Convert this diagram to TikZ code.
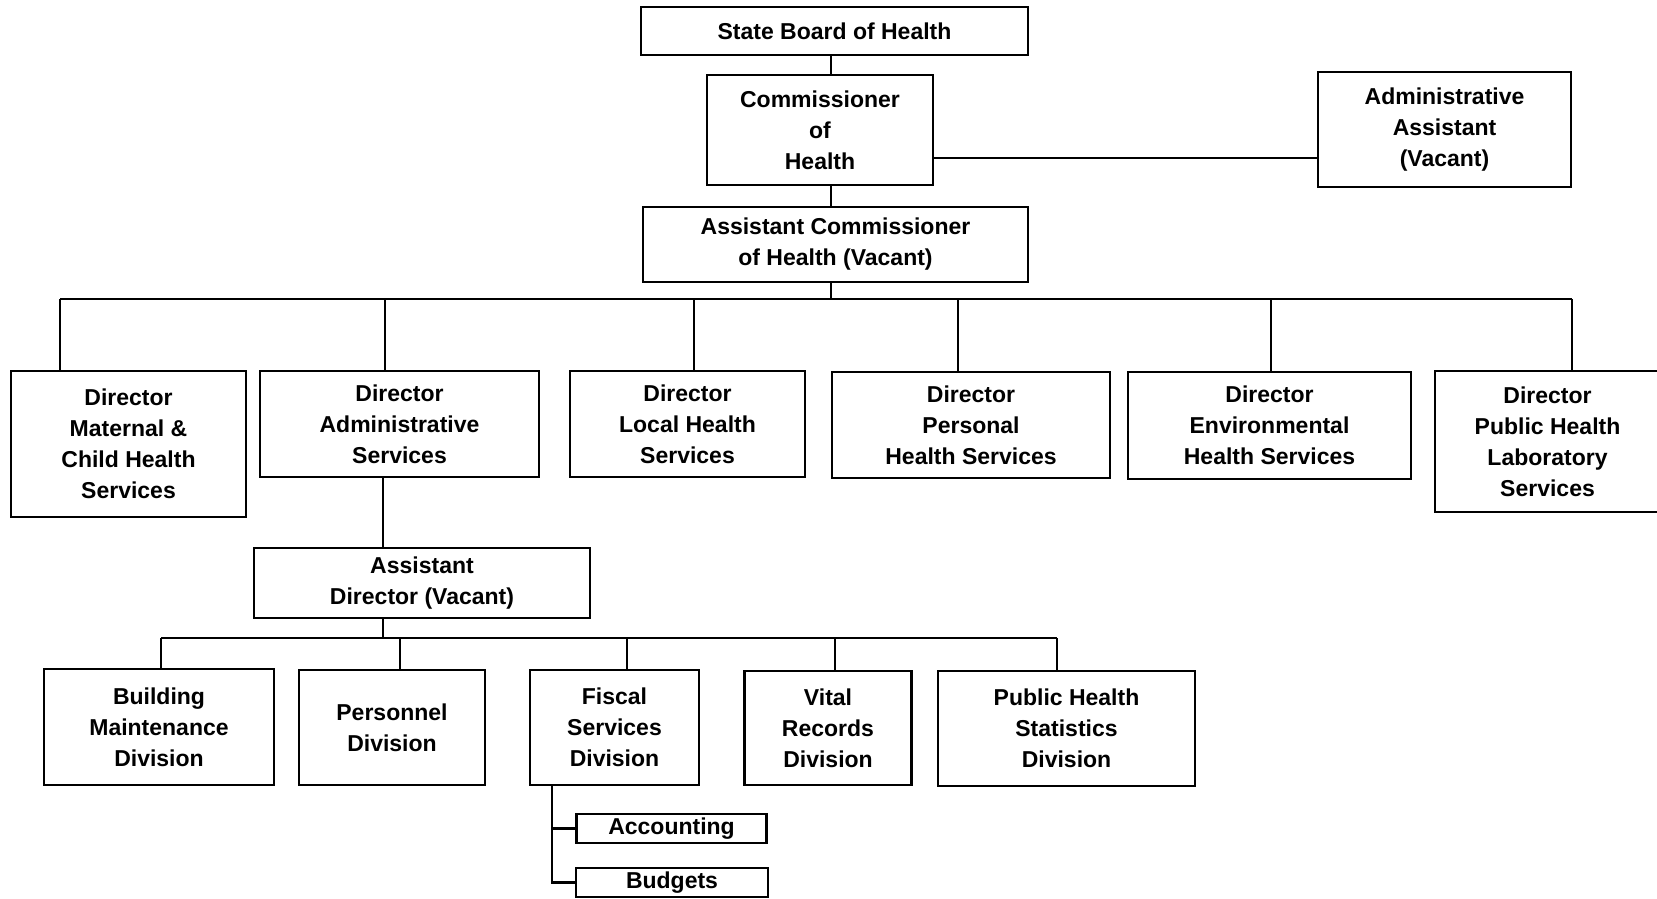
\documentclass[tikz,border=0pt]{standalone}
\usepackage{fontspec}
\setmainfont{Liberation Sans}
\begin{document}
\begin{tikzpicture}[x=0.5pt,y=-0.5pt]
\tikzset{
  box/.style={draw, line width=1.3pt, align=center, inner sep=0pt,
    font=\bfseries\fontsize{11.5}{15.5}\selectfont},
  wh/.style 2 args={minimum width=#1*0.5pt, minimum height=#2*0.5pt},
  link/.style={line width=1.2pt},
}
\path[use as bounding box, clip] (0,0) rectangle (1657,898);

% top of the chart
\node[box, wh={387}{48}]  (sbh)  at (834.5,31)    {State Board of Health};
\node[box, wh={226}{110}] (com)  at (820,130)     {Commissioner\\of\\Health};
\node[box, wh={253}{115}] (adm)  at (1444.5,129.5){Administrative\\Assistant\\(Vacant)};
\node[box, wh={385}{75}]  (acom) at (835.5,244.5) {Assistant Commissioner\\of Health (Vacant)};

% directors
\node[box, wh={235}{146}] (mch) at (128.5,444)   {Director\\Maternal \&\\Child Health\\Services};
\node[box, wh={279}{106}] (das) at (399.5,424)   {Director\\Administrative\\Services};
\node[box, wh={235}{106}] (dlh) at (687.5,424)   {Director\\Local Health\\Services};
\node[box, wh={278}{106}] (dph) at (971,425)     {Director\\Personal\\Health Services};
\node[box, wh={283}{107}] (deh) at (1269.5,425.5){Director\\Environmental\\Health Services};
\node[box, wh={225}{141}] (dpl) at (1547.5,441.5){Director\\Public Health\\Laboratory\\Services};

% administrative services branch
\node[box, wh={336}{70}]  (ad)  at (422,583)     {Assistant\\Director (Vacant)};
\node[box, wh={230}{116}] (bmd) at (159,727)     {Building\\Maintenance\\Division};
\node[box, wh={186}{115}] (per) at (392,727.5)   {Personnel\\Division};
\node[box, wh={169}{115}] (fis) at (614.5,727.5) {Fiscal\\Services\\Division};
\node[box, wh={167}{114}] (vit) at (828,728)     {Vital\\Records\\Division};
\node[box, wh={257}{115}] (phs) at (1066.5,728.5){Public Health\\Statistics\\Division};
\node[box, wh={190}{29}]  (acc) at (671.5,828.5) {Accounting};
\node[box, wh={192}{29}]  (bud) at (672,882.5)   {Budgets};

% connectors: main spine and director bus
\coordinate (spine) at (831,0);
\coordinate (aa)    at (0,158);
\draw[link] (sbh.south -| spine) -- (com.north -| spine);
\draw[link] (com.south -| spine) -- (acom.north -| spine);
\draw[link] (com.east |- aa) -- (adm.west |- aa);

\coordinate (d1) at (60,299);
\coordinate (d2) at (385,299);
\coordinate (d3) at (694,299);
\coordinate (d4) at (958,299);
\coordinate (d5) at (1271,299);
\coordinate (d6) at (1572,299);
\draw[link] (acom.south -| spine) -- (spine |- d1);
\draw[link] (d1) -- (d6);
\draw[link] (d1) -- (d1 |- mch.north);
\draw[link] (d2) -- (d2 |- das.north);
\draw[link] (d3) -- (d3 |- dlh.north);
\draw[link] (d4) -- (d4 |- dph.north);
\draw[link] (d5) -- (d5 |- deh.north);
\draw[link] (d6) -- (d6 |- dpl.north);

% connectors: division bus
\coordinate (sub) at (383,0);
\draw[link] (das.south -| sub) -- (ad.north -| sub);
\coordinate (e1) at (161,638);
\coordinate (e2) at (400,638);
\coordinate (e3) at (627,638);
\coordinate (e4) at (835,638);
\coordinate (e5) at (1057,638);
\draw[link] (ad.south -| sub) -- (sub |- e1);
\draw[link] (e1) -- (e5);
\draw[link] (e1) -- (e1 |- bmd.north);
\draw[link] (e2) -- (e2 |- per.north);
\draw[link] (e3) -- (e3 |- fis.north);
\draw[link] (e4) -- (e4 |- vit.north);
\draw[link] (e5) -- (e5 |- phs.north);

% fiscal sub-units
\coordinate (fx) at (552,0);
\draw[link] (fis.south -| fx) -- (fx |- bud.west) -- (bud.west);
\draw[link] (fx |- acc.west) -- (acc.west);
\end{tikzpicture}
\end{document}
